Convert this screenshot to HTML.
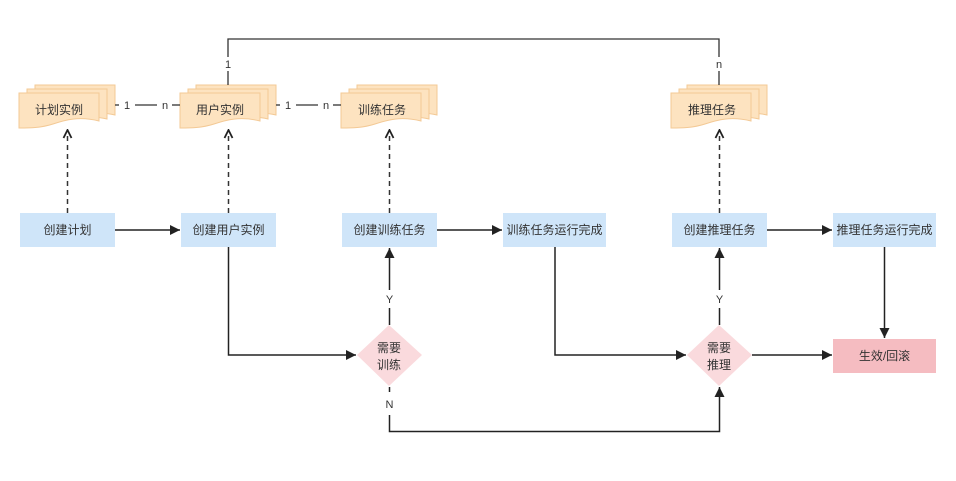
<!DOCTYPE html>
<html><head><meta charset="utf-8"><style>
html,body{margin:0;padding:0;background:#fff;width:956px;height:481px;overflow:hidden}
svg{display:block}
text{font-family:"Liberation Sans","Noto Sans CJK SC",sans-serif;fill:#333;}
</style></head><body>
<svg width="956" height="481" viewBox="0 0 956 481" xmlns="http://www.w3.org/2000/svg">
<defs>
<marker id="ah" viewBox="0 0 10 10" refX="10" refY="5" markerWidth="10" markerHeight="10" markerUnits="userSpaceOnUse" orient="auto">
<path d="M0,0 L10,5 L0,10 Z" fill="#222"/>
</marker>
<marker id="oh" viewBox="0 0 10 10" refX="9" refY="5" markerWidth="10" markerHeight="10" markerUnits="userSpaceOnUse" orient="auto">
<path d="M1,1 L9,5 L1,9" fill="none" stroke="#222" stroke-width="1.8"/>
</marker>
<g id="doc">
<path d="M16,-8 h80 v30 c-20,-5 -40,2 -80,4 z" fill="#fde3c0" stroke="#f3c995" stroke-width="1"/>
<path d="M8,-4 h80 v30 c-20,-5 -40,2 -80,4 z" fill="#fde3c0" stroke="#f3c995" stroke-width="1"/>
<path d="M0,0 h80 v28 c-20,-5 -34,-1 -46,3 c-12,4 -24,4 -34,4 z" fill="#fde3c0" stroke="#f3c995" stroke-width="1"/>
</g>
</defs>

<!-- documents -->
<use href="#doc" x="19" y="93"/>
<use href="#doc" x="180" y="93"/>
<use href="#doc" x="341" y="93"/>
<use href="#doc" x="671" y="93"/>
<g font-size="12" text-anchor="middle">
<text x="59" y="114">计划实例</text>
<text x="220" y="114">用户实例</text>
<text x="382" y="114">训练任务</text>
<text x="712" y="114">推理任务</text>
</g>

<!-- doc relations -->
<g stroke="#333" stroke-width="1.3" fill="none">
<line x1="115" y1="105" x2="119" y2="105"/>
<line x1="135" y1="105" x2="157" y2="105"/>
<line x1="172" y1="105" x2="180" y2="105"/>
<line x1="276" y1="105" x2="280" y2="105"/>
<line x1="296" y1="105" x2="318" y2="105"/>
<line x1="333" y1="105" x2="341" y2="105"/>
<polyline points="228,57 228,39 719,39 719,57"/>
<line x1="228" y1="71" x2="228" y2="85"/>
<line x1="719" y1="71" x2="719" y2="85"/>
</g>
<g font-size="11" text-anchor="middle">
<text x="127" y="109">1</text>
<text x="165" y="109">n</text>
<text x="288" y="109">1</text>
<text x="326" y="109">n</text>
<text x="228" y="68">1</text>
<text x="719" y="68">n</text>
</g>

<!-- dashed arrows -->
<g stroke="#333" stroke-width="1.5" fill="none" stroke-dasharray="5,4">
<line x1="67.5" y1="213" x2="67.5" y2="130" marker-end="url(#oh)"/>
<line x1="228.5" y1="213" x2="228.5" y2="130" marker-end="url(#oh)"/>
<line x1="389.5" y1="213" x2="389.5" y2="130" marker-end="url(#oh)"/>
<line x1="719.5" y1="213" x2="719.5" y2="130" marker-end="url(#oh)"/>
</g>

<!-- blue boxes -->
<g fill="#cfe5f9">
<rect x="20" y="213" width="95" height="34"/>
<rect x="181" y="213" width="95" height="34"/>
<rect x="342" y="213" width="95" height="34"/>
<rect x="503" y="213" width="103" height="34"/>
<rect x="672" y="213" width="95" height="34"/>
<rect x="833" y="213" width="103" height="34"/>
</g>
<rect x="833" y="339" width="103" height="34" fill="#f5bcc1"/>
<g fill="#fadadd">
<polygon points="389,325 422,355 389,386 357,355"/>
<polygon points="719,325 752,355 719,386 687,355"/>
</g>
<g font-size="12" text-anchor="middle">
<text x="67.5" y="234">创建计划</text>
<text x="228.5" y="234">创建用户实例</text>
<text x="389.5" y="234">创建训练任务</text>
<text x="554.5" y="234">训练任务运行完成</text>
<text x="719.5" y="234">创建推理任务</text>
<text x="884.5" y="234">推理任务运行完成</text>
<text x="884.5" y="360">生效/回滚</text>
<text x="389" y="352">需要</text>
<text x="389" y="369">训练</text>
<text x="719" y="352">需要</text>
<text x="719" y="369">推理</text>
</g>

<!-- solid connectors -->
<g stroke="#222" stroke-width="1.5" fill="none">
<line x1="115" y1="230" x2="180" y2="230" marker-end="url(#ah)"/>
<line x1="437" y1="230" x2="502" y2="230" marker-end="url(#ah)"/>
<line x1="767" y1="230" x2="832" y2="230" marker-end="url(#ah)"/>
<polyline points="228.5,247 228.5,355 356,355" marker-end="url(#ah)"/>
<polyline points="555,247 555,355 686,355" marker-end="url(#ah)"/>
<line x1="752" y1="355" x2="832" y2="355" marker-end="url(#ah)"/>
<line x1="884.5" y1="247" x2="884.5" y2="338" marker-end="url(#ah)"/>
<line x1="389.5" y1="325" x2="389.5" y2="308"/>
<line x1="389.5" y1="290" x2="389.5" y2="248" marker-end="url(#ah)"/>
<line x1="719.5" y1="325" x2="719.5" y2="308"/>
<line x1="719.5" y1="290" x2="719.5" y2="248" marker-end="url(#ah)"/>
<line x1="389.5" y1="387" x2="389.5" y2="392"/>
<polyline points="389.5,415 389.5,431.5 719.5,431.5 719.5,387" marker-end="url(#ah)"/>
</g>
<g font-size="11" text-anchor="middle">
<text x="389.5" y="303">Y</text>
<text x="719.5" y="303">Y</text>
<text x="389.5" y="408">N</text>
</g>
</svg>
</body></html>
